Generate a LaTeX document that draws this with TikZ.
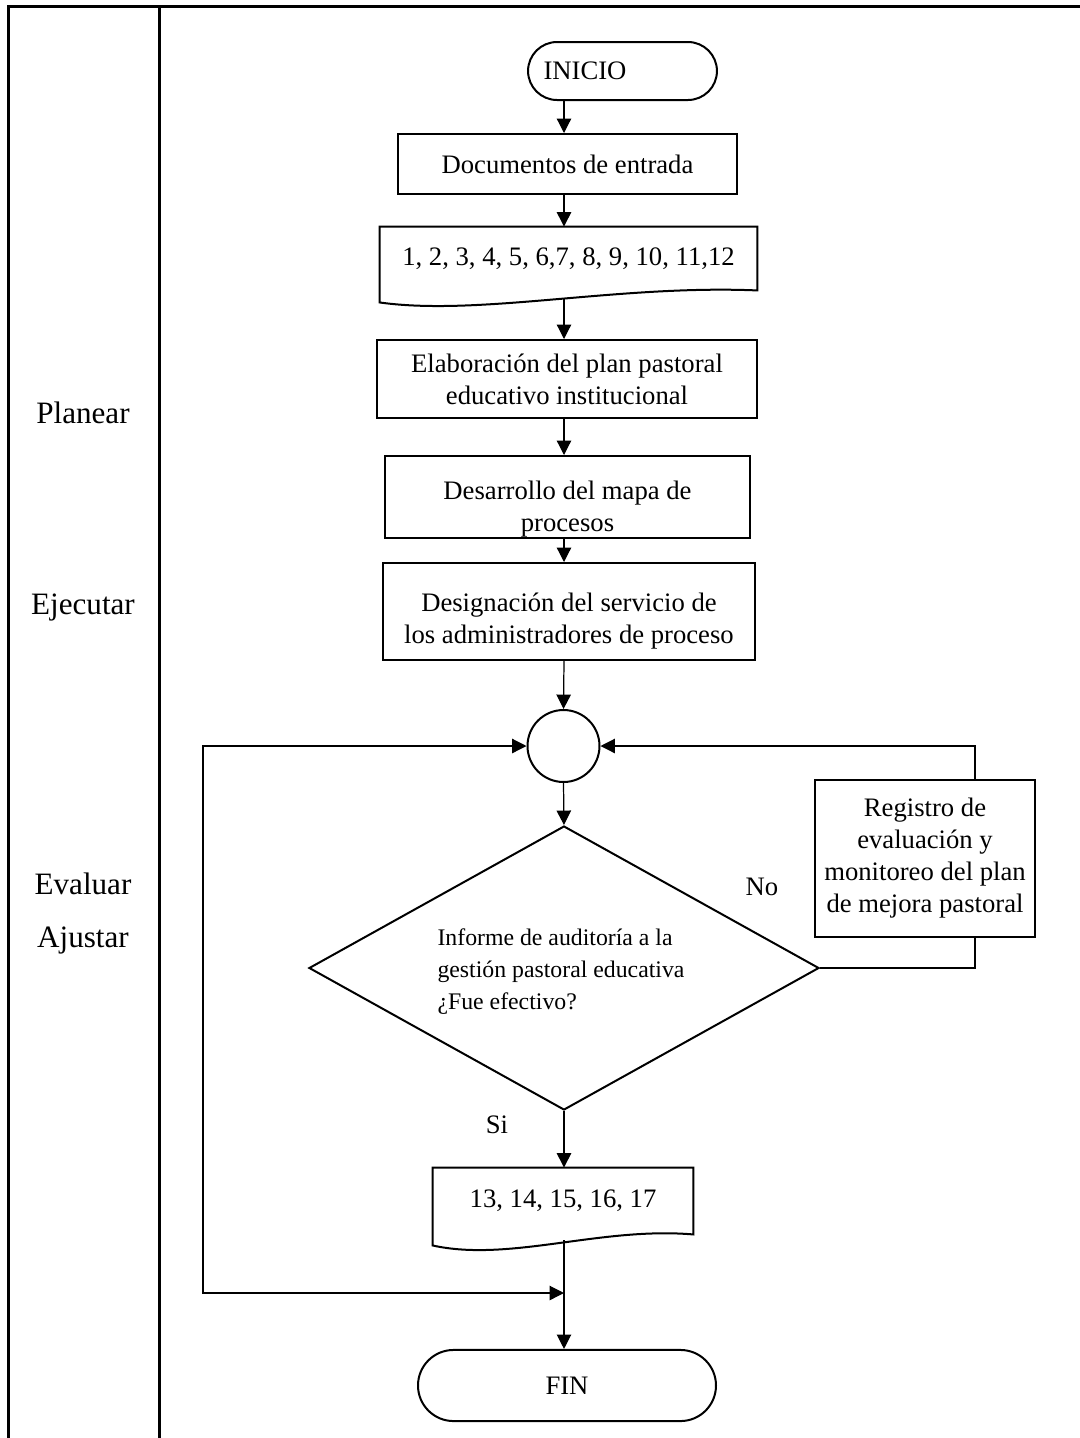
\documentclass[tikz,border=0pt]{standalone}
\usepackage{fontspec}
\setmainfont{Liberation Serif}
\usepackage{tikz}
\usetikzlibrary{shapes.geometric,shapes.misc,arrows.meta,calc}

\begin{document}
\begin{tikzpicture}[x=0.45pt,y=-0.45pt,
  every node/.style={font=\fontsize{12}{14.4}\selectfont, inner sep=0pt},
  frame/.style={line width=1.35pt},
  proc/.style={draw, line width=0.9pt, align=center},
  txt/.style={align=center},
  term/.style={draw, line width=0.9pt, rounded rectangle},
  conn/.style={line width=0.55pt},
  arr/.style={conn, -{Triangle[length=6.5pt,width=6.5pt]}},
  side/.style={font=\fontsize{14}{16.8}\selectfont}]
\useasboundingbox (0,0) rectangle (1080,1438);

% table frame
\draw[frame] (1080,6) -- (8,6) -- (8,1438);
\draw[frame] (159,6) -- (159,1438);

\node[side] (planear) at (83,413) {Planear};
\node[side] (ejecutar) at (83,608) {Ejecutar};
\node[side] (evaluar) at (83,884) {Evaluar};
\node[side] (ajustar) at (83,940) {Ajustar};

\coordinate (axis) at (564,0);

% main flow
\node[term, minimum width=85pt, minimum height=26.1pt] (inicio) at (622.5,71) {};
\node (inicio-txt) at (585,71) {INICIO};
\node[proc, minimum width=152.6pt, minimum height=27pt] (docs) at (567.5,164) {Documentos de entrada};

\node[minimum width=169.65pt, minimum height=28.35pt] (in1) at (568.5,258.5) {1, 2, 3, 4, 5, 6,7, 8, 9, 10, 11,12};
\draw[line width=0.9pt] (in1.south east) -- (in1.north east) -- (in1.north west)
  -- ($(in1.south west)+(0,12)$) .. controls ($(in1.south west)+(100,26)$) and ($(in1.south east)+(-140,-6)$) .. (in1.south east) -- cycle;

\node[proc, minimum width=171pt, minimum height=35.1pt] (elab) at (567,379) {Elaboración del plan pastoral\\educativo institucional};
\node[proc, minimum width=164.25pt, minimum height=36.9pt] (desa) at (567.5,497) {};
\node[txt] (desa-txt) at (567.5,509) {Desarrollo del mapa de\\procesos};
\node[proc, minimum width=167.4pt, minimum height=43.65pt] (desig) at (569,611.5) {};
\node[txt] (desig-txt) at (569,621) {Designación del servicio de\\los administradores de proceso};

\node[circle, draw, line width=0.9pt, minimum size=32.4pt] (circ) at (563.5,746) {};
\node[diamond, draw, line width=0.9pt, aspect=1.8, minimum width=229.5pt, minimum height=127.8pt] (dec) at (564,968) {};
\node[align=left, font=\fontsize{10.7}{14.4}\selectfont] (dec-txt) at (561,972) {Informe de auditoría a la\\gestión pastoral educativa\\¿Fue efectivo?};
\node[proc, minimum width=99pt, minimum height=70.65pt] (reg) at (925,858.5) {Registro de\\evaluación y\\monitoreo del plan\\de mejora pastoral};

\node[minimum width=117pt, minimum height=29.7pt] (in2) at (563,1201) {13, 14, 15, 16, 17};
\draw[line width=0.9pt] (in2.south east) -- (in2.north east) -- (in2.north west)
  -- ($(in2.south west)+(0,11)$) .. controls ($(in2.south west)+(77,28)$) and ($(in2.south east)+(-93,-8)$) .. (in2.south east) -- cycle;

\node[term, minimum width=134.1pt, minimum height=32pt] (fin) at (567,1385.5) {FIN};

\node (no) at (762,887) {No};
\node (si) at (497,1125) {Si};

\coordinate (loop) at (203,1293);
\coordinate (join) at (564,1293);

% connectors
\draw[arr] (inicio.south -| axis) -- (docs.north -| axis);
\draw[arr] (docs.south -| axis) -- (in1.north -| axis);
\draw[arr] ($(in1.south -| axis)+(0,9)$) -- (elab.north -| axis);
\draw[arr] (elab.south -| axis) -- (desa.north -| axis);
\draw[arr] (desa.south -| axis) -- (desig.north -| axis);
\draw[arr] (desig.south -| axis) -- (circ.north);
\draw[arr] (circ.south) -- (dec.north);
\draw[arr] (dec.south) -- (in2.north -| dec.south);
\draw[arr] ($(in2.south -| axis)+(0,6)$) -- (fin.north -| axis);
\draw[conn] (dec.east) -| ([xshift=22.5pt]reg.south);
\draw[arr] ([xshift=22.5pt]reg.north) |- (circ.east);
\draw[conn, {Triangle[length=6.5pt,width=6.5pt]}-{Triangle[length=6.5pt,width=6.5pt]}] (circ.west) -| (loop) -- (join);
\end{tikzpicture}
\end{document}
